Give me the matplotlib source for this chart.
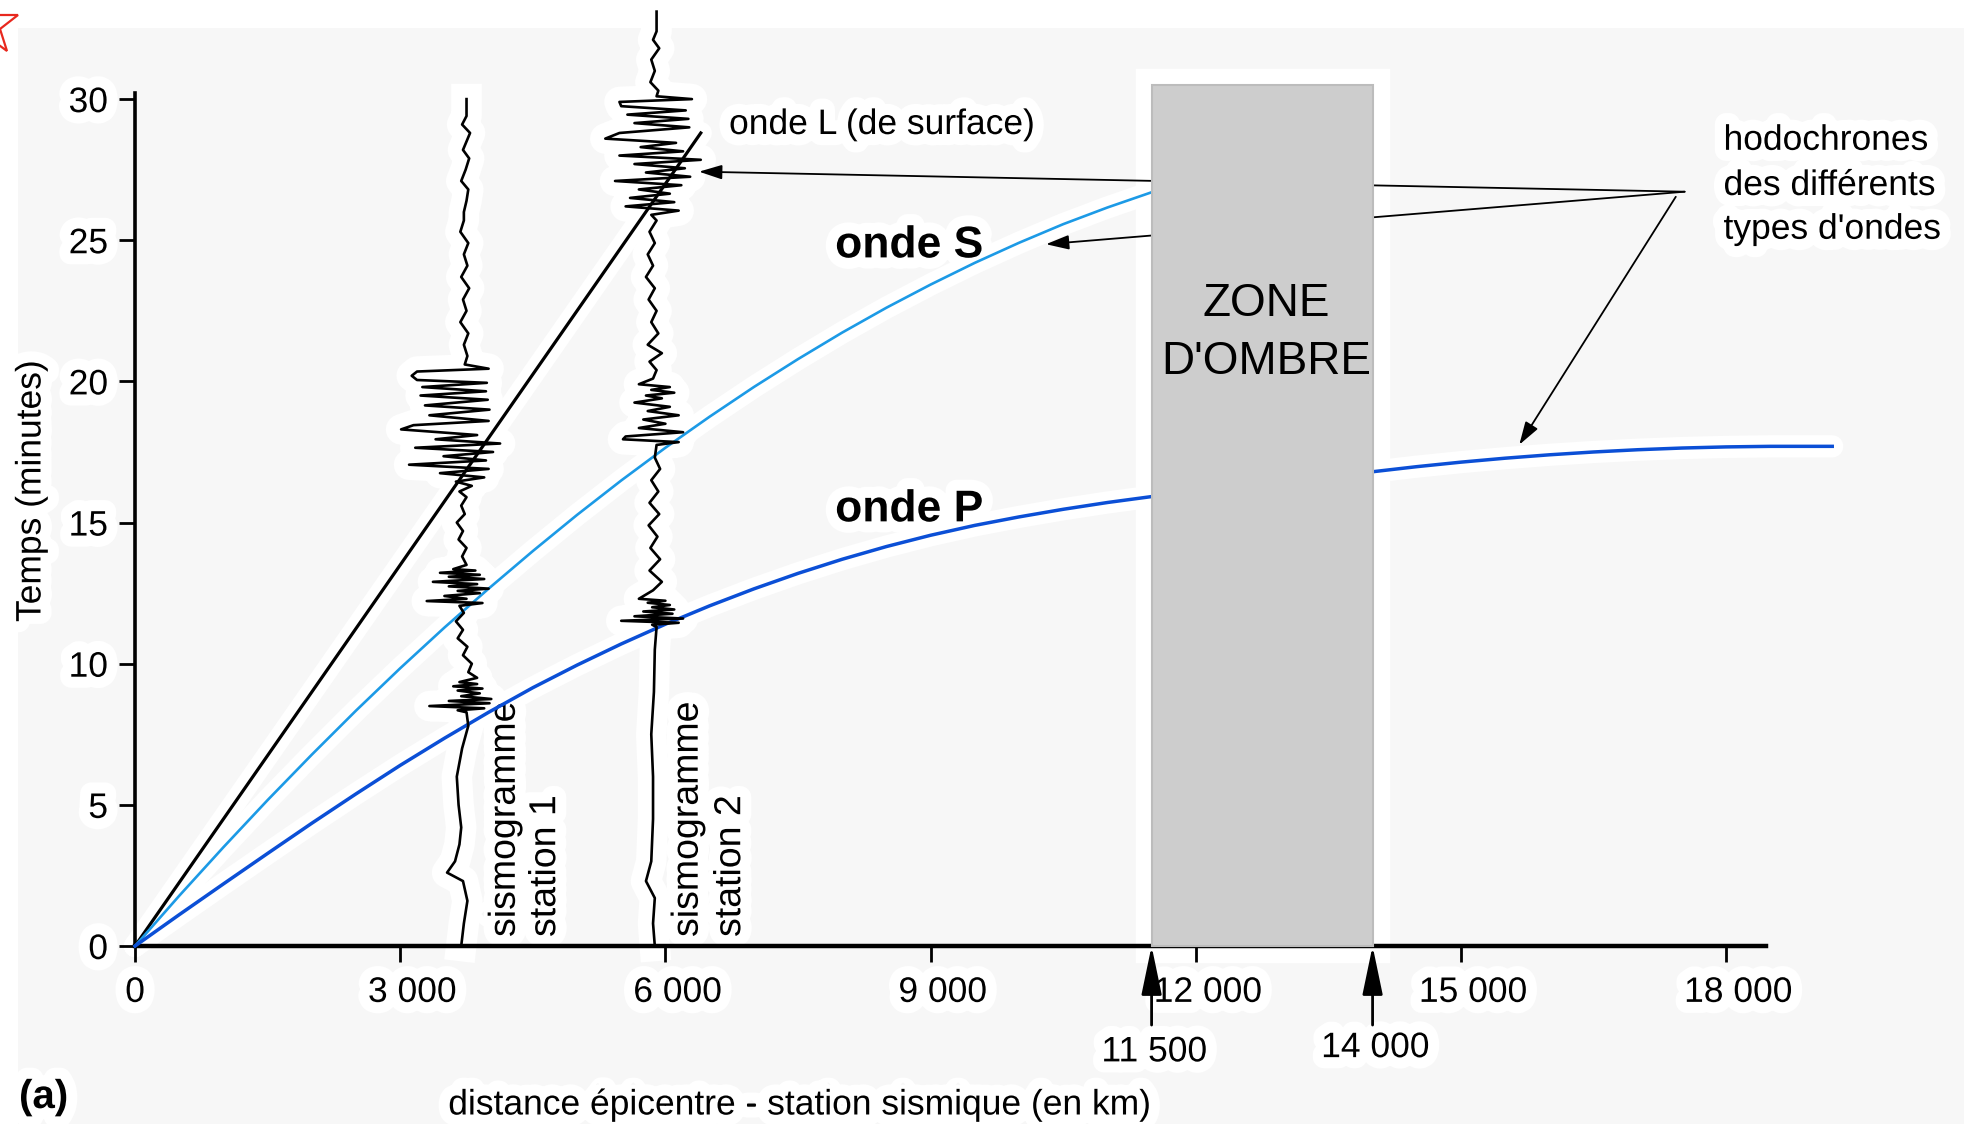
import numpy as np
import matplotlib.pyplot as plt
import matplotlib.patheffects as pe
import matplotlib.transforms as mtransforms
from matplotlib.patches import Rectangle
from matplotlib.lines import Line2D
from matplotlib import font_manager

# hodochrones : distance épicentrale (km) -> temps d'arrivée (minutes)
dist_P1 = [0, 500, 1000, 1500, 2000, 2500, 3000, 3500, 4000, 4500, 5000, 5500, 6000,
           6500, 7000, 7500, 8000, 8500, 9000, 9500, 10000, 10500, 11000, 11500]
temps_P1 = [0, 1.11, 2.2, 3.28, 4.35, 5.39, 6.4, 7.36, 8.28, 9.15, 9.95, 10.7, 11.4,
            12.05, 12.65, 13.2, 13.7, 14.15, 14.55, 14.9, 15.2, 15.47, 15.71, 15.92]
dist_P2 = [14000, 14500, 15000, 15500, 16000, 16500, 17000, 17500, 18000, 18500, 19200]
temps_P2 = [16.8, 16.98, 17.14, 17.28, 17.4, 17.5, 17.58, 17.64, 17.68, 17.7, 17.7]
dist_S = [0, 500, 1000, 1500, 2000, 2500, 3000, 3500, 4000, 4500, 5000, 5500, 6000,
          6500, 7000, 7500, 8000, 8500, 9000, 9500, 10000, 10500, 11000, 11500]
temps_S = [0, 1.78, 3.5, 5.17, 6.78, 8.34, 9.84, 11.28, 12.66, 13.99, 15.27, 16.49, 17.65,
           18.75, 19.8, 20.79, 21.73, 22.61, 23.43, 24.2, 24.91, 25.57, 26.16, 26.7]
dist_L = [0, 6400]
temps_L = [0, 28.8]

# zone d'ombre (km)
zone_debut = 11500
zone_fin = 14000
zone_haut = 30.5

xticks = [0, 3000, 6000, 9000, 12000, 15000, 18000]
xtick_labels = ['0', '3 000', '6 000', '9 000', '12 000', '15 000', '18 000']
yticks = [0, 5, 10, 15, 20, 25, 30]

# sismogrammes : position de la station (km), temps (min), écart du tracé (km)
station1_km = 3750
sismo1_t = [30.0, 29.4, 29.1, 28.8, 28.5, 28.2, 27.9, 27.5, 27.1, 26.8, 26.4, 26.0, 25.7,
            25.3, 24.9, 24.5, 24.1, 23.7, 23.3, 22.9, 22.5, 22.1, 21.7, 21.3, 20.9, 20.6,
            20.45, 20.35, 20.2, 20.05, 19.95, 19.8, 19.65, 19.5, 19.35, 19.15, 19.0, 18.8,
            18.6, 18.45, 18.3, 18.1, 17.95, 17.8, 17.65, 17.5, 17.35, 17.2, 17.05, 16.9,
            16.75, 16.6, 16.45, 16.3, 16.1, 15.9,
            15.6, 15.3, 15.0, 14.7, 14.4, 14.1, 13.8, 13.5,
            13.35, 13.3, 13.22, 13.15, 13.08, 13.0, 12.9, 12.82, 12.74, 12.66, 12.58, 12.5,
            12.4, 12.3, 12.22, 12.15, 12.05,
            11.8, 11.5, 11.2, 10.9, 10.6, 10.3, 10.0, 9.7, 9.5,
            9.35, 9.28, 9.2, 9.12, 9.05, 8.95, 8.85, 8.75, 8.68, 8.6, 8.5, 8.42, 8.35, 8.28,
            7.8, 7.0, 6.0, 5.0, 4.2, 3.6, 3.0, 2.6, 2.3, 1.6, 0.8, 0.0]
sismo1_dx = [0, 0, -50, 40, 0, -40, 30, -10, -60, 20, 0, -30, -30,
             -70, 20, -30, 10, -60, 30, -40, 0, -70, 20, -30, 10, -20,
             250, -560, -620, -560, 230, -500, 220, -520, 240, -470, 260, -420,
             250, -600, -740, 120, -350, 380, -580, 300, -260, 220, -650, 250,
             -300, 200, -120, 60, -80, 0,
             -60, -20, -110, -40, -90, 0, -50, 0,
             -150, 100, -300, 150, -200, 200, -380, 120, -200, 250, -100, 150,
             -250, 0, -450, 180, -80,
             -30, -120, -40, -100, 10, -40, 60, 20, 120,
             -80, 120, -150, 180, -100, 150, -60, 280, -200, 260, -420, 200, -100, 0,
             20, -50, -110, -90, -60, -80, -130, -220, -40, 10, -30, -60]

station2_km = 5900
sismo2_t = [33.1, 32.4, 32.1, 31.8, 31.4, 31.0, 30.6, 30.3, 30.1,
            30.0, 29.9, 29.75, 29.6, 29.45, 29.3, 29.15, 29.0, 28.8, 28.6, 28.45, 28.3,
            28.15, 28.0, 27.85, 27.7, 27.55, 27.4, 27.25, 27.1, 26.95, 26.8, 26.65, 26.5,
            26.35, 26.2, 26.05, 25.9, 25.7,
            25.3, 24.9, 24.5, 24.1, 23.7, 23.3, 22.9, 22.5, 22.1, 21.7, 21.3, 21.0, 20.7,
            20.4, 20.1,
            19.9, 19.8, 19.7, 19.6, 19.5, 19.4, 19.25, 19.1, 18.95, 18.8, 18.65, 18.5,
            18.35, 18.2, 18.05, 17.95, 17.85, 17.75,
            17.3, 16.9, 16.5, 16.1, 15.7, 15.3, 14.9, 14.5, 14.1, 13.7, 13.3, 12.9, 12.6,
            12.3, 12.23, 12.16, 12.08, 12.0, 11.92, 11.85, 11.77, 11.68, 11.6, 11.52,
            11.45, 11.38, 11.3,
            10.5, 9.0, 7.5, 6.0, 4.5, 3.0, 2.3, 1.7, 0.8, 0.0]
sismo2_dx = [0, 0, -40, 30, -60, -20, -70, 20, 0,
             400, -420, -400, 330, -330, 360, -250, 370, -420, -580, 220, -180,
             300, -420, 500, -250, 320, -120, 380, -470, 280, -200, 150, -300,
             200, -350, 250, -60, 0,
             -80, -20, -100, -40, -120, -20, -90, 0, -60, 20, -100, 60, -80,
             0, -40,
             -200, 150, -60, 200, -120, 60, -250, 150, -100, 250, -150, 100,
             -200, 300, -350, -380, 250, 0,
             -20, 40, -60, 20, -80, 30, -90, 10, -70, 40, -80, 60, -40,
             -200, 100, -100, 150, -50, 200, -150, 180, -250, 300, -400,
             250, -50, 0,
             -20, -30, -60, -40, -40, -60, -120, -20, -40, -20]

# police étroite si elle est installée
installees = {f.name for f in font_manager.fontManager.ttflist}
if 'Liberation Sans Narrow' in installees:
    police, k = 'Liberation Sans Narrow', 1.1
else:
    police, k = 'Liberation Sans', 1.0
plt.rcParams['font.family'] = [police, 'DejaVu Sans']

W, H = 1964, 1124
fig = plt.figure(figsize=(W / 100, H / 100), dpi=100)
fig.patch.set_facecolor('white')
fig.add_artist(Rectangle((18 / W, 0), 1, 1 - 28 / H, transform=fig.transFigure,
                         facecolor='#f7f7f7', edgecolor='none', zorder=-10))

# étoile rouge dans le coin
fig.add_artist(Line2D([-0.006], [0.978], transform=fig.transFigure, marker='*',
                      markersize=46, markerfacecolor='none', markeredgecolor='#e8281e',
                      markeredgewidth=1.6))

# axes : 0 km -> x=135 px, 1 km = 0.0884 px ; 0 min -> y=946 px, 1 min = 28.23 px
ax = fig.add_axes([82 / W, 1 - 968.6 / H, 1785.6 / W, 968.3 / H])
ax.set_xlim(-600, 19600)
ax.set_ylim(-0.8, 33.5)
ax.patch.set_alpha(0)

halo = [pe.withStroke(linewidth=16, foreground='white')]

for s in ['top', 'right']:
    ax.spines[s].set_visible(False)
ax.spines['left'].set_position(('data', 0))
ax.spines['bottom'].set_position(('data', 0))
ax.spines['left'].set_bounds(0, 30.2)
ax.spines['bottom'].set_bounds(0, 18450)
ax.spines['left'].set_linewidth(2.6)
ax.spines['bottom'].set_linewidth(3.2)

ax.set_xticks(xticks, labels=xtick_labels)
ax.set_yticks(yticks)
ax.tick_params(direction='out', length=11.5, width=2, labelsize=25.5 * k)
ax.tick_params(axis='x', pad=10)
ax.tick_params(axis='y', pad=8)
decalage = mtransforms.ScaledTranslation(0.12, 0, fig.dpi_scale_trans)
for i, lbl in enumerate(ax.get_xticklabels()):
    if i > 0:
        lbl.set_transform(lbl.get_transform() + decalage)
for lbl in ax.get_xticklabels() + ax.get_yticklabels():
    lbl.set_path_effects(halo)

# halos blancs sous les tracés
for d, t in [(dist_L, temps_L), (dist_S, temps_S), (dist_P1, temps_P1), (dist_P2, temps_P2)]:
    ax.plot(d, t, color='white', lw=16, solid_capstyle='round', zorder=1)
for st, t, dx in [(station1_km, sismo1_t, sismo1_dx), (station2_km, sismo2_t, sismo2_dx)]:
    ax.plot(st + np.array(dx), t, color='white', lw=22, solid_joinstyle='round', zorder=1)

ax.add_patch(Rectangle((zone_debut, 0), zone_fin - zone_debut, zone_haut,
                       facecolor='white', edgecolor='white', lw=24, zorder=1))

# hodochrones
ax.plot(dist_L, temps_L, color='black', lw=2.3, zorder=3)
ax.plot(dist_S, temps_S, color='#1c9ae6', lw=1.9, zorder=3)
ax.plot(dist_P1, temps_P1, color='#0b4fd6', lw=2.5, zorder=3)
ax.plot(dist_P2, temps_P2, color='#0b4fd6', lw=2.5, zorder=3)

# sismogrammes
ax.plot(station1_km + np.array(sismo1_dx), sismo1_t, color='black', lw=1.9, zorder=3.5)
ax.plot(station2_km + np.array(sismo2_dx), sismo2_t, color='black', lw=1.9, zorder=3.5)

# flèches des hodochrones (passent sous la zone d'ombre)
fleche = dict(arrowstyle='-|>,head_length=0.7,head_width=0.22', color='black', lw=1.3,
              mutation_scale=20, shrinkA=0, shrinkB=0)
ax.annotate('', xy=(6380, 27.43), xytext=(17530, 26.72), arrowprops=fleche, zorder=4)
ax.annotate('', xy=(10305, 24.86), xytext=(17530, 26.72), arrowprops=fleche, zorder=4)
ax.annotate('', xy=(15660, 17.76), xytext=(17430, 26.54), arrowprops=fleche, zorder=4)

# zone d'ombre
ax.add_patch(Rectangle((zone_debut, 0), zone_fin - zone_debut, zone_haut,
                       facecolor='#cdcdcd', edgecolor='#bcbcbc', lw=1.5, zorder=5))
ax.text(12800, 22.75, 'ZONE', fontsize=33 * k, ha='center', va='center', zorder=6)
ax.text(12800, 20.7, "D'OMBRE", fontsize=33 * k, ha='center', va='center', zorder=6)

# limites de la zone d'ombre sous l'axe
borne = dict(arrowstyle='-|>,head_length=1.2,head_width=0.25', color='black', lw=2,
             mutation_scale=25, shrinkA=0, shrinkB=0)
for xb, lab, yl in [(zone_debut, '11 500', -3.75), (zone_fin, '14 000', -3.6)]:
    ax.annotate('', xy=(xb, 0), xytext=(xb, -2.8), arrowprops=borne,
                annotation_clip=False, zorder=6)
    ax.text(xb + 30, yl, lab, fontsize=25.5 * k, ha='center', va='center',
            clip_on=False, path_effects=halo)

# étiquettes (sous les courbes, au-dessus des halos)
ax.text(6720, 29.1, 'onde L (de surface)', fontsize=25.5 * k, ha='left', va='center',
        path_effects=halo, zorder=2)
ax.text(7920, 24.8, 'onde S', fontsize=32 * k, fontweight='bold', ha='left', va='center',
        path_effects=halo, zorder=2)
ax.text(7920, 15.45, 'onde P', fontsize=32 * k, fontweight='bold', ha='left', va='center',
        path_effects=halo, zorder=2)
for yy, ligne in zip([28.54, 26.94, 25.39], ['hodochrones', 'des différents', "types d'ondes"]):
    ax.text(17970, yy, ligne, fontsize=25.5 * k, ha='left', va='center',
            path_effects=halo, zorder=2)

for xs, lab in [(4183, 'sismogramme'), (4640, 'station 1'),
                (6252, 'sismogramme'), (6733, 'station 2')]:
    ax.text(xs, 0.32, lab, fontsize=27 * k, rotation=90, ha='center', va='bottom',
            path_effects=halo, zorder=2)

fig.text(31 / W, 1 - 491 / H, 'Temps (minutes)', fontsize=25.5 * k, rotation=90,
         ha='center', va='center', path_effects=halo)
fig.text(800 / W, 1 - 1105 / H, 'distance épicentre - station sismique (en km)',
         fontsize=25.5 * k, ha='center', va='center', path_effects=halo)
fig.text(19 / W, 1 - 1097 / H, '(a)', fontsize=29 * k, fontweight='bold',
         ha='left', va='center', path_effects=halo)

fig.savefig('out.png', dpi=100)
